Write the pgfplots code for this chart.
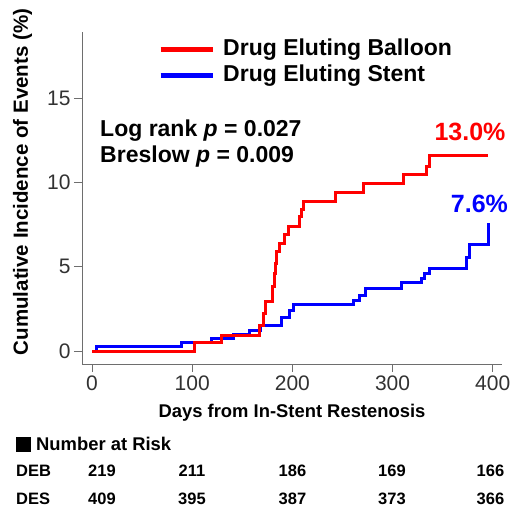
\documentclass[border=0pt]{standalone}
\usepackage{fontspec}
\setmainfont{Liberation Sans}
\usepackage{pgfplots}
\pgfplotsset{compat=1.18}

\definecolor{debred}{RGB}{255,0,0}
\definecolor{desblue}{RGB}{0,0,255}
\definecolor{axisgray}{RGB}{110,110,110}
\definecolor{labelgray}{RGB}{50,50,50}

\begin{document}
\begin{tikzpicture}[x=1pt,y=1pt]
\path[use as bounding box] (0,0) rectangle (513,-507);
\begin{axis}[
  at={(82pt,-364pt)}, anchor=south west,
  scale only axis, width=420pt, height=332pt,
  xmin=-10, xmax=409.3, ymin=-0.77, ymax=18.93,
  axis lines*=left,
  axis line style={axisgray, line width=0.9pt},
  xtick={0,100,200,300,400}, ytick={0,5,10,15},
  tick align=outside, major tick length=8pt,
  tick style={axisgray, line width=0.9pt},
  ticklabel style={font=\fontsize{21}{24}\selectfont, text=labelgray},
  /pgf/number format/assume math mode=true,
  clip=false,
  reverse legend,
  legend style={at={(axis description cs:0.181,0.980)}, anchor=north west,
    draw=none, fill=none, inner sep=0pt, row sep=4.8pt,
    font=\fontsize{23}{26.6}\selectfont\bfseries,
    nodes={inner xsep=8pt, inner ysep=0pt, text height=16.5pt, text depth=5pt},
    cells={anchor=west}},
  legend image code/.code={\draw[#1, line width=5pt] (0pt,0pt) -- (52pt,0pt);},
]
% Drug eluting stent (DES)
\addplot[desblue, line width=3pt, const plot, line join=miter] coordinates {
  (0,0) (4.6,0.26) (89.5,0.49) (119.4,0.72) (141,0.97) (157.7,1.24)
  (168,1.52) (189,2.0) (197,2.4) (201,2.78) (261.5,3.02) (267,3.3)
  (273.5,3.72) (309,4.08) (329,4.3) (332,4.6) (336.5,4.92) (374,5.55)
  (377,6.35) (395.5,7.6)
};
\addlegendentry{Drug Eluting Stent}
% Drug eluting balloon (DEB)
\addplot[debred, line width=3pt, const plot, line join=miter] coordinates {
  (0,0) (102,0.48) (129,0.95) (167,1.5) (171,2.2) (173.5,2.95) (180,3.8)
  (182,4.6) (183,5.2) (184.5,5.9) (187,6.4) (192,6.9) (196,7.4) (207,8.0)
  (209,8.4) (211.5,8.9) (243,9.4) (271,9.95) (311,10.47) (333.5,10.95)
  (336.5,11.58) (395.5,11.58)
};
\addlegendentry{Drug Eluting Balloon}

\node[anchor=west, inner sep=0pt, font=\fontsize{23}{27}\selectfont\bfseries]
  at (axis cs:8,13.1) {Log rank \textit{p} = 0.027};
\node[anchor=west, inner sep=0pt, font=\fontsize{23}{27}\selectfont\bfseries]
  at (axis cs:8,11.53) {Breslow \textit{p} = 0.009};
\node[inner sep=0pt, font=\fontsize{25}{29}\selectfont\bfseries, text=debred]
  at (axis cs:377.3,13.0) {13.0\%};
\node[inner sep=0pt, font=\fontsize{25}{29}\selectfont\bfseries, text=desblue]
  at (axis cs:386.8,8.72) {7.6\%};
\end{axis}

% axis titles
\node[rotate=90, inner sep=0pt, font=\fontsize{20.5}{24}\selectfont\bfseries]
  at (22.5,-182) {Cumulative Incidence of Events (\%)};
\node[inner sep=0pt, font=\fontsize{18.4}{22}\selectfont\bfseries]
  at (292,-413) {Days from In-Stent Restenosis};

% number at risk
\fill (16,-437) rectangle (31,-452);
\node[anchor=west, inner sep=0pt, font=\fontsize{18.4}{22}\selectfont\bfseries]
  at (36,-444) {Number at Risk};
\begin{scope}[every node/.style={inner sep=0pt, font=\fontsize{16.5}{20}\selectfont\bfseries}]
  \node[anchor=west] at (16,-471) {DEB};
  \node at (102,-471) {219};
  \node at (192,-471) {211};
  \node at (292.5,-471) {186};
  \node at (392,-471) {169};
  \node at (490.5,-471) {166};
  \node[anchor=west] at (16,-499) {DES};
  \node at (102,-499) {409};
  \node at (192,-499) {395};
  \node at (292.5,-499) {387};
  \node at (392,-499) {373};
  \node at (490.5,-499) {366};
\end{scope}
\end{tikzpicture}
\end{document}
